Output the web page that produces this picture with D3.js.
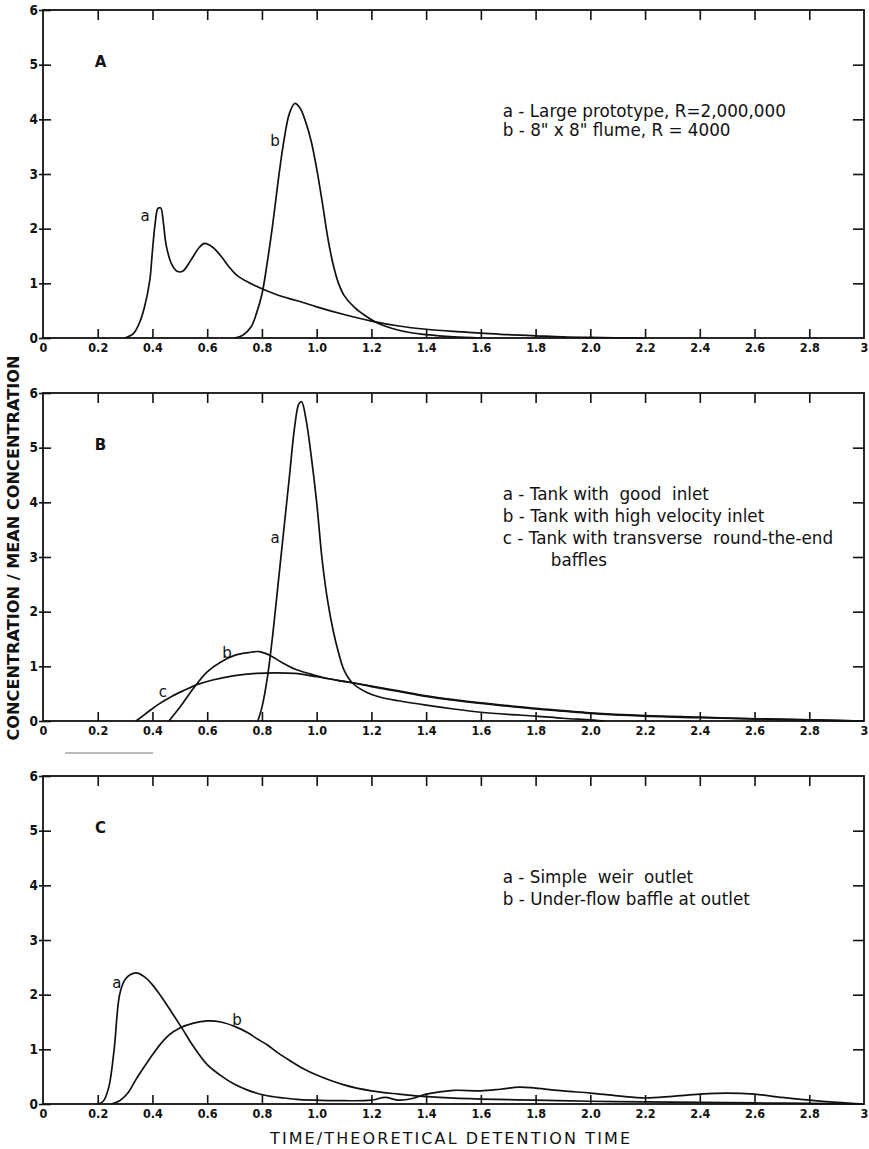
<!DOCTYPE html>
<html>
<head>
<meta charset="utf-8">
<script src="https://cdn.jsdelivr.net/npm/d3@7"></script>
<style>
  body { margin: 0; background: #fff; }
  text { fill: #111; }
</style>
</head>
<body>
<div id="chart"></div>
<script>
(function(){
// axis ticks shared by the three panels
const xTickValues = [0, 0.2, 0.4, 0.6, 0.8, 1.0, 1.2, 1.4, 1.6, 1.8, 2.0, 2.2, 2.4, 2.6, 2.8, 3];
const yTickValues = [0, 1, 2, 3, 4, 5, 6];

// A - prototype vs flume
const timeAa = [0.30, 0.33, 0.35, 0.37, 0.39, 0.40, 0.41, 0.42, 0.43, 0.44, 0.45, 0.47, 0.49, 0.51, 0.54, 0.57, 0.59, 0.62, 0.65, 0.68, 0.71, 0.75, 0.80, 0.85, 0.90, 0.95, 1.0, 1.1, 1.2, 1.3, 1.4, 1.5, 1.6, 1.7, 1.8, 1.9, 2.0, 2.2];
const concAa = [0, 0.08, 0.25, 0.55, 1.05, 1.6, 2.1, 2.37, 2.38, 2.1, 1.7, 1.35, 1.22, 1.22, 1.42, 1.65, 1.73, 1.66, 1.5, 1.3, 1.14, 1.02, 0.9, 0.8, 0.72, 0.65, 0.57, 0.43, 0.31, 0.22, 0.16, 0.12, 0.09, 0.06, 0.04, 0.02, 0.01, 0];
const timeAb = [0.70, 0.73, 0.76, 0.78, 0.80, 0.82, 0.84, 0.86, 0.88, 0.90, 0.92, 0.94, 0.96, 0.98, 1.00, 1.02, 1.04, 1.06, 1.08, 1.10, 1.14, 1.18, 1.22, 1.28, 1.34, 1.40, 1.50, 1.60];
const concAb = [0, 0.05, 0.2, 0.45, 0.8, 1.4, 2.1, 2.9, 3.6, 4.1, 4.29, 4.2, 3.95, 3.6, 3.1, 2.5, 1.85, 1.35, 1.0, 0.78, 0.55, 0.4, 0.28, 0.17, 0.1, 0.06, 0.02, 0];

// B - inlet arrangements
const timeBa = [0.785, 0.80, 0.82, 0.84, 0.86, 0.88, 0.90, 0.92, 0.935, 0.945, 0.96, 0.98, 1.00, 1.02, 1.04, 1.06, 1.08, 1.10, 1.13, 1.18, 1.23, 1.3, 1.4, 1.5, 1.6, 1.7, 1.8, 1.9, 2.0, 2.05];
const concBa = [0, 0.25, 0.8, 1.6, 2.55, 3.5, 4.45, 5.4, 5.8, 5.84, 5.55, 4.85, 4.0, 2.95, 2.2, 1.66, 1.25, 0.93, 0.7, 0.53, 0.44, 0.37, 0.29, 0.22, 0.16, 0.12, 0.09, 0.05, 0.02, 0];
const timeBb = [0.46, 0.50, 0.55, 0.60, 0.65, 0.70, 0.75, 0.79, 0.83, 0.87, 0.92, 0.97, 1.02, 1.08, 1.13, 1.2, 1.3, 1.4, 1.5, 1.6, 1.7, 1.8, 1.9, 2.0, 2.2, 2.4, 2.6, 2.8, 3.0];
const concBb = [0, 0.25, 0.6, 0.9, 1.08, 1.2, 1.25, 1.27, 1.2, 1.08, 0.95, 0.87, 0.8, 0.74, 0.7, 0.63, 0.54, 0.45, 0.38, 0.32, 0.27, 0.22, 0.18, 0.14, 0.09, 0.06, 0.04, 0.02, 0];
const timeBc = [0.34, 0.38, 0.42, 0.47, 0.52, 0.56, 0.62, 0.70, 0.78, 0.85, 0.92, 1.0, 1.07, 1.13, 1.2, 1.3, 1.4, 1.5, 1.6, 1.7, 1.8, 1.9, 2.0, 2.2, 2.4, 2.6, 2.8, 3.0];
const concBc = [0, 0.15, 0.3, 0.45, 0.57, 0.66, 0.75, 0.83, 0.87, 0.88, 0.87, 0.81, 0.75, 0.7, 0.64, 0.55, 0.46, 0.39, 0.33, 0.28, 0.23, 0.19, 0.15, 0.1, 0.07, 0.04, 0.02, 0];

// C - outlet arrangements
const timeCa = [0.20, 0.22, 0.24, 0.26, 0.28, 0.30, 0.32, 0.34, 0.37, 0.40, 0.43, 0.47, 0.51, 0.55, 0.60, 0.65, 0.70, 0.75, 0.81, 0.88, 0.94, 1.0, 1.1, 1.2, 1.25, 1.3, 1.35, 1.4, 1.5, 1.6, 1.67, 1.74, 1.8, 1.9, 2.0, 2.1, 2.2, 2.3, 2.4, 2.5, 2.6, 2.7, 2.8, 2.9, 3.0];
const concCa = [0, 0.05, 0.3, 1.0, 2.0, 2.28, 2.37, 2.4, 2.33, 2.18, 1.98, 1.68, 1.37, 1.05, 0.72, 0.52, 0.36, 0.25, 0.16, 0.11, 0.08, 0.07, 0.06, 0.07, 0.12, 0.07, 0.1, 0.18, 0.25, 0.24, 0.27, 0.31, 0.29, 0.24, 0.2, 0.15, 0.11, 0.14, 0.18, 0.2, 0.18, 0.12, 0.07, 0.03, 0];
const timeCb = [0.25, 0.28, 0.31, 0.34, 0.37, 0.40, 0.43, 0.46, 0.50, 0.55, 0.60, 0.65, 0.70, 0.75, 0.78, 0.82, 0.86, 0.90, 0.95, 1.0, 1.1, 1.2, 1.3, 1.36, 1.45, 1.6, 1.8, 2.0, 2.2, 2.4, 2.6, 2.8, 3.0];
const concCb = [0, 0.06, 0.2, 0.45, 0.68, 0.9, 1.1, 1.26, 1.39, 1.48, 1.52, 1.5, 1.42, 1.3, 1.2, 1.08, 0.93, 0.8, 0.65, 0.53, 0.35, 0.24, 0.18, 0.15, 0.12, 0.09, 0.07, 0.05, 0.04, 0.03, 0.02, 0.01, 0];

const legendA = ["a - Large prototype, R=2,000,000", "b - 8\" x 8\" flume, R = 4000"];
const legendB = ["a - Tank with  good  inlet", "b - Tank with high velocity inlet", "c - Tank with transverse  round-the-end", "         baffles"];
const legendC = ["a - Simple  weir  outlet", "b - Under-flow baffle at outlet"];

const pair = (xs, ys) => xs.map((t, i) => ({t: t, c: ys[i]}));

const panels = [
  {top: 10, letter: "A", legend: legendA, legendGap: 0.35,
   series: [
     {name: "a", pts: pair(timeAa, concAa), lx: 0.373, ly: 2.24},
     {name: "b", pts: pair(timeAb, concAb), lx: 0.848, ly: 3.6}
   ]},
  {top: 393, letter: "B", legend: legendB, legendGap: 0.4,
   series: [
     {name: "a", pts: pair(timeBa, concBa), lx: 0.848, ly: 3.35},
     {name: "b", pts: pair(timeBb, concBb), lx: 0.672, ly: 1.24},
     {name: "c", pts: pair(timeBc, concBc), lx: 0.438, ly: 0.53}
   ]},
  {top: 776, letter: "C", legend: legendC, legendGap: 0.4,
   series: [
     {name: "a", pts: pair(timeCa, concCa), lx: 0.27, ly: 2.21},
     {name: "b", pts: pair(timeCb, concCb), lx: 0.709, ly: 1.54}
   ]}
];

var width = 869, height = 1149;
var left = 43, right = 864, ph = 328;
var font = "'DejaVu Sans', sans-serif";

var svg = d3.select("#chart").append("svg")
  .attr("width", width)
  .attr("height", height);

var x = d3.scaleLinear().domain([0, 3]).range([left, right]);

panels.forEach(function(p) {
  var y = d3.scaleLinear().domain([0, 6]).range([p.top + ph, p.top]);
  var g = svg.append("g");

  // frame
  g.append("rect")
    .attr("x", left).attr("y", p.top)
    .attr("width", right - left).attr("height", ph)
    .attr("fill", "none").attr("stroke", "#111").attr("stroke-width", 1.8);

  // bottom axis with labels, ticks point inward
  var bx = g.append("g")
    .attr("transform", "translate(0," + (p.top + ph) + ")")
    .call(d3.axisBottom(x).tickValues(xTickValues).tickSizeInner(-9).tickSizeOuter(0).tickPadding(5)
      .tickFormat(function(d) { return (d === 0 || d === 3) ? String(d) : d.toFixed(1); }));
  bx.select(".domain").remove();
  bx.selectAll("line").attr("stroke", "#111").attr("stroke-width", 1.6)
    .filter(function(d) { return d === 0 || d === 3; }).remove();
  bx.selectAll("text").attr("font-family", "'DejaVu Sans Condensed', " + font)
    .attr("font-weight", "bold").attr("font-size", 12.5).attr("fill", "#111");

  // top ticks
  var tx = g.append("g")
    .attr("transform", "translate(0," + p.top + ")")
    .call(d3.axisTop(x).tickValues(xTickValues.slice(1, -1)).tickSizeInner(-10).tickSizeOuter(0).tickFormat(""));
  tx.select(".domain").remove();
  tx.selectAll("line").attr("stroke", "#111").attr("stroke-width", 1.6);

  // left axis
  var ly = g.append("g")
    .attr("transform", "translate(" + left + ",0)")
    .call(d3.axisLeft(y).tickValues(yTickValues).tickSizeInner(-8).tickSizeOuter(0).tickPadding(5)
      .tickFormat(d3.format("d")));
  ly.select(".domain").remove();
  ly.selectAll("line").attr("x1", -4).attr("stroke", "#111").attr("stroke-width", 1.6);
  ly.selectAll("text").attr("font-family", "'DejaVu Sans Condensed', " + font)
    .attr("font-weight", "bold").attr("font-size", 13.5).attr("fill", "#111");

  // right ticks
  var ry = g.append("g")
    .attr("transform", "translate(" + right + ",0)")
    .call(d3.axisRight(y).tickValues(yTickValues.slice(1, -1)).tickSizeInner(-11).tickSizeOuter(0).tickFormat(""));
  ry.select(".domain").remove();
  ry.selectAll("line").attr("stroke", "#111").attr("stroke-width", 1.6);

  // curves
  var line = d3.line()
    .x(function(d) { return x(d.t); })
    .y(function(d) { return y(Math.max(0, d.c)); })
    .curve(d3.curveCatmullRom.alpha(0.5));

  g.selectAll("path.curve")
    .data(p.series)
    .join("path")
    .attr("class", "curve")
    .attr("d", function(s) { return line(s.pts); })
    .attr("fill", "none")
    .attr("stroke", "#111")
    .attr("stroke-width", 1.7);

  // curve letters
  g.selectAll("text.clab")
    .data(p.series)
    .join("text")
    .attr("class", "clab")
    .attr("x", function(s) { return x(s.lx); })
    .attr("y", function(s) { return y(s.ly); })
    .attr("dy", "0.35em")
    .attr("text-anchor", "middle")
    .attr("font-family", font)
    .attr("font-size", 15)
    .text(function(s) { return s.name; });

  // panel letter
  g.append("text")
    .attr("x", x(0.21)).attr("y", y(5.05)).attr("dy", "0.35em")
    .attr("text-anchor", "middle")
    .attr("font-family", font).attr("font-weight", "bold").attr("font-size", 15)
    .text(p.letter);

  // legend
  g.selectAll("text.leg")
    .data(p.legend)
    .join("text")
    .attr("class", "leg")
    .attr("x", x(1.68))
    .attr("y", function(d, i) { return y(4.15 - i * p.legendGap); })
    .attr("dy", "0.35em")
    .attr("font-family", font)
    .attr("font-size", 16.8)
    .style("white-space", "pre")
    .text(function(d) { return d; });
});

// thin rule under panel B
svg.append("line")
  .attr("x1", 65).attr("x2", 153).attr("y1", 753).attr("y2", 753)
  .attr("stroke", "#777").attr("stroke-width", 1);

// axis titles
svg.append("text")
  .attr("transform", "translate(14,548) rotate(-90)")
  .attr("text-anchor", "middle")
  .attr("dy", "0.35em")
  .attr("font-family", font).attr("font-weight", "bold").attr("font-size", 15)
  .attr("textLength", 385).attr("lengthAdjust", "spacingAndGlyphs")
  .text("CONCENTRATION / MEAN CONCENTRATION");

svg.append("text")
  .attr("x", 450).attr("y", 1138)
  .attr("text-anchor", "middle")
  .attr("dy", "0.35em")
  .attr("font-family", font).attr("font-size", 16)
  .attr("textLength", 360).attr("lengthAdjust", "spacing")
  .text("TIME/THEORETICAL DETENTION TIME");
})();
</script>
</body>
</html>
